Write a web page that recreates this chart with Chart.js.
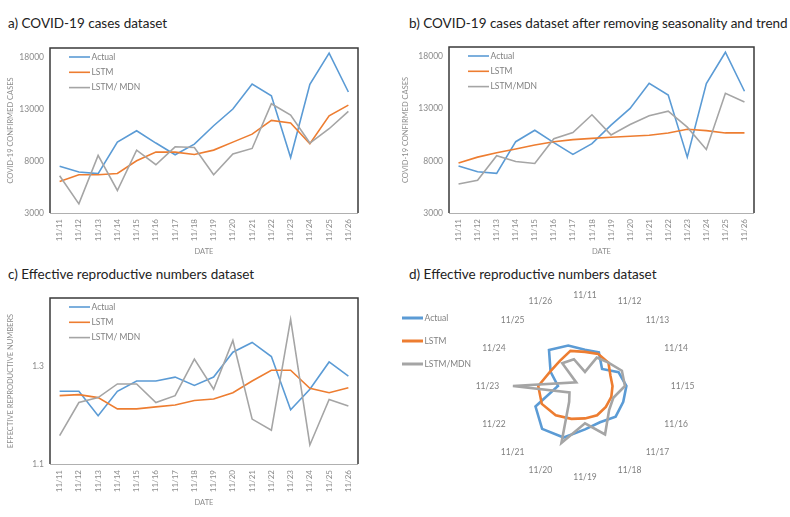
<!DOCTYPE html>
<html><head><meta charset="utf-8">
<script src="https://cdn.jsdelivr.net/npm/chart.js@4"></script>
<style>
body{margin:0;background:#fff;width:790px;height:517px;overflow:hidden;position:relative;font-family:Lato,'Open Sans',sans-serif;}
.t{position:absolute;font-size:13.5px;color:#222;white-space:nowrap;line-height:16px;}
canvas{position:absolute;}
</style></head><body>
<div class="t" style="left:8px;top:15px">a) COVID-19 cases dataset</div>
<div class="t" style="left:409px;top:15px">b) COVID-19 cases dataset after removing seasonality and trend</div>
<div class="t" style="left:8px;top:266px">c) Effective reproductive numbers dataset</div>
<div class="t" style="left:409px;top:266px">d) Effective reproductive numbers dataset</div>
<canvas id="ca" width="395" height="260" style="left:0;top:0"></canvas>
<canvas id="cb" width="395" height="260" style="left:395px;top:0"></canvas>
<canvas id="cc" width="395" height="257" style="left:0;top:260px"></canvas>
<canvas id="cd" width="395" height="257" style="left:395px;top:260px"></canvas>
<script>
const dates = ['11/11','11/12','11/13','11/14','11/15','11/16','11/17','11/18','11/19','11/20','11/21','11/22','11/23','11/24','11/25','11/26'];
const seriesNames = ['Actual','LSTM','LSTM/ MDN'];
const seriesNamesB = ['Actual','LSTM','LSTM/MDN'];
const casesActual = [7500,6950,6800,9830,10930,9740,8610,9640,11410,13020,15430,14300,8350,15400,18400,14660];
const casesLSTM = [6040,6680,6680,6810,8030,8870,8870,8640,9060,9830,10600,11920,11670,9670,12370,13400];
const casesMDN = [6590,3880,8550,5170,9060,7650,9380,9320,6680,8680,9220,13530,12440,9740,11120,12790];
const detrendLSTM = [7780,8350,8770,9130,9510,9830,10030,10150,10250,10350,10440,10670,11020,10890,10670,10670];
const detrendMDN = [5780,6130,8480,7940,7740,10120,10700,12410,10480,11470,12310,12760,11220,9090,14460,13630];
const rtActual = [1.249,1.249,1.199,1.249,1.270,1.270,1.278,1.261,1.278,1.329,1.349,1.320,1.211,1.253,1.309,1.280];
const rtLSTM = [1.240,1.242,1.236,1.213,1.213,1.217,1.221,1.230,1.233,1.246,1.270,1.292,1.292,1.255,1.246,1.256];
const rtMDN = [1.158,1.226,1.236,1.264,1.264,1.226,1.240,1.315,1.253,1.353,1.192,1.169,1.396,1.139,1.232,1.219];
const casesTicks = [3000,8000,13000,18000];
const rtTicks = [1.1,1.3];
const colors = ['#5B9BD5','#ED7D31','#A5A5A5'];

Chart.defaults.font.family = "Lato, 'Open Sans', sans-serif";
Chart.defaults.animation = false;

const framePlugin = {id:'frame', beforeDatasetsDraw(chart){
  const {ctx, chartArea:{left,top,right,bottom}} = chart;
  ctx.save();
  ctx.strokeStyle='#b0b0b0'; ctx.lineWidth=1;
  ctx.beginPath(); ctx.moveTo(left,bottom+0.5); ctx.lineTo(right,bottom+0.5); ctx.stroke();
  ctx.strokeStyle='#3a3a3a'; ctx.lineWidth=1.5;
  ctx.beginPath(); ctx.moveTo(left,bottom); ctx.lineTo(left,top); ctx.lineTo(right,top); ctx.lineTo(right,bottom); ctx.stroke();
  ctx.restore();
}};
const legendPlugin = {id:'myLegend', afterDraw(chart, args, o){
  const ctx = chart.ctx;
  const x0 = (o.abs ? 0 : chart.chartArea.left) + o.dx;
  let y = (o.abs ? 0 : chart.chartArea.top) + o.dy;
  chart.data.datasets.forEach(ds=>{
    ctx.save();
    ctx.strokeStyle = ds.borderColor; ctx.lineWidth = o.lw;
    ctx.beginPath(); ctx.moveTo(x0,y); ctx.lineTo(x0+o.len,y); ctx.stroke();
    ctx.fillStyle = '#7f7f7f'; ctx.font = o.size + "px Lato, 'Open Sans', sans-serif";
    ctx.textBaseline = 'middle';
    ctx.fillText(ds.label, x0+o.len+1.5, y);
    ctx.restore();
    y += o.gap;
  });
}};

function lineChart(id, names, vals, yMin, yMax, yTicks, yTitle, g){
  return new Chart(document.getElementById(id), {
    type:'line',
    data:{labels:dates, datasets: vals.map((v,i)=>({label:names[i], data:v, borderColor:colors[i], backgroundColor:colors[i], borderWidth:1.6, pointRadius:0, tension:0, fill:false, order:i===0?2:(i===1?1:0)}))},
    options:{
      responsive:false, devicePixelRatio:1,
      layout:{padding:{left:0, top:g.top, right:g.right, bottom:0}},
      plugins:{legend:{display:false}, tooltip:{enabled:false}, myLegend:{dx:19, dy:9, gap:15.3, len:21, lw:1.6, size:8.5}},
      scales:{
        x:{offset:true, grid:{display:false, drawTicks:false}, border:{display:false},
           ticks:{autoSkip:false, maxRotation:90, minRotation:90, padding:6, color:'#8c8c8c', font:{size:8}},
           title:{display:true, text:'DATE', color:'#8c8c8c', font:{size:7.5}, padding:{top:0,bottom:g.tb}},
           afterFit(a){ a.height = g.xh; }},
        y:{min:yMin, max:yMax, grid:{display:false, drawTicks:false}, border:{display:false},
           ticks:{padding:6, color:'#8c8c8c', font:{size:8.5}, callback:v=>String(v)},
           afterBuildTicks(a){ a.ticks = yTicks.map(v=>({value:v})); },
           title:{display:true, text:yTitle, color:'#8c8c8c', font:{size:7.5}, padding:{top:6,bottom:0}},
           afterFit(a){ a.width = g.yw; }}
      }
    },
    plugins:[framePlugin, legendPlugin]
  });
}

lineChart('ca', seriesNames, [casesActual, casesLSTM, casesMDN], 3000, 18900, casesTicks, 'COVID-19 CONFIRMED CASES', {top:48, right:37, yw:50, xh:47, tb:4});
lineChart('cb', seriesNamesB, [casesActual, detrendLSTM, detrendMDN], 3000, 18900, casesTicks, 'COVID-19 CONFIRMED CASES', {top:47, right:36, yw:54, xh:47, tb:4});
lineChart('cc', seriesNames, [rtActual, rtLSTM, rtMDN], 1.1, 1.44, rtTicks, 'EFFECTIVE REPRODUCTIVE NUMBERS', {top:38, right:37, yw:50, xh:53, tb:10});

new Chart(document.getElementById('cd'), {
  type:'radar',
  data:{labels:dates, datasets:[rtActual, rtLSTM, rtMDN].map((v,i)=>({label:seriesNamesB[i], data:v, borderColor:colors[i], backgroundColor:'rgba(0,0,0,0)', borderWidth:2.6, pointRadius:0, tension:0, fill:false, order:i===0?2:(i===1?1:0)}))},
  options:{
    responsive:false, devicePixelRatio:1,
    layout:{padding:{left:75, right:90, top:30, bottom:35}},
    plugins:{legend:{display:false}, tooltip:{enabled:false}, myLegend:{abs:true, dx:7, dy:58, gap:23, len:21, lw:3, size:8.5}},
    scales:{r:{min:1.1, max:1.44, ticks:{display:false}, grid:{display:false}, angleLines:{display:false},
      pointLabels:{color:'#7f7f7f', font:{size:8.5}, padding:3}}}
  },
  plugins:[legendPlugin]
});
</script>
</body></html>
